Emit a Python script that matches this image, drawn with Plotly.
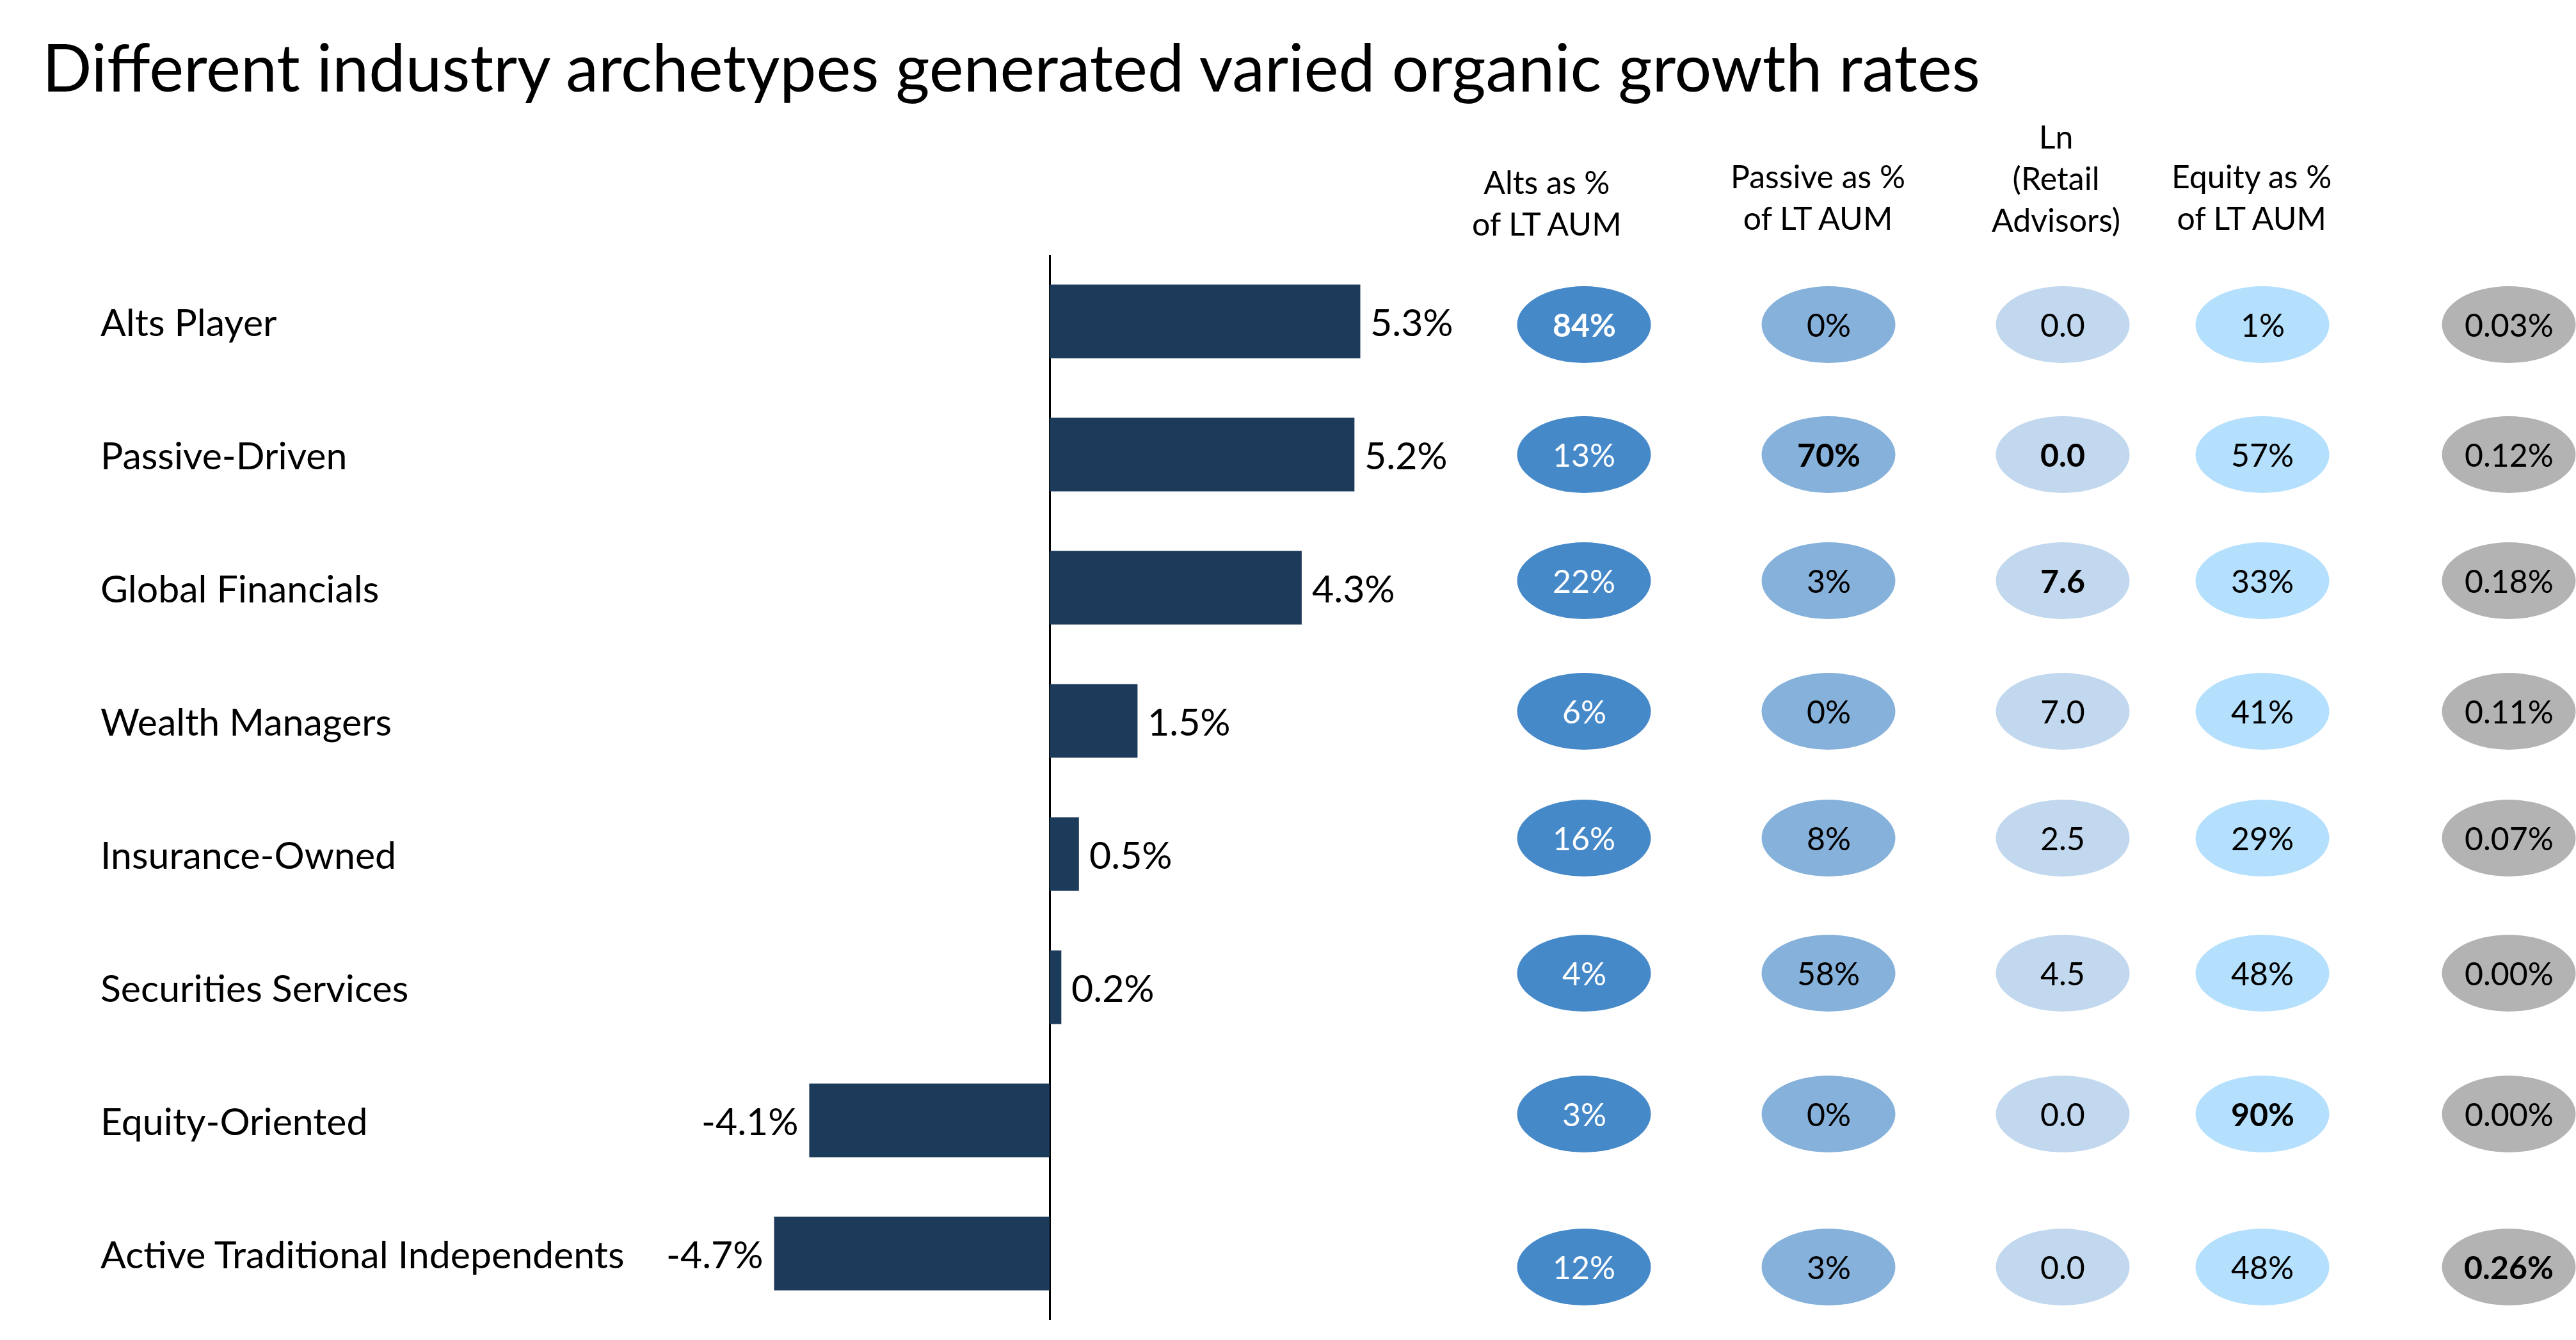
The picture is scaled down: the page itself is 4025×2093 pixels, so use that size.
import plotly.graph_objects as go

# ---------------- data ----------------
categories = [
    "Alts Player",
    "Passive-Driven",
    "Global Financials",
    "Wealth Managers",
    "Insurance-Owned",
    "Securities Services",
    "Equity-Oriented",
    "Active Traditional Independents",
]
organic_growth = [5.3, 5.2, 4.3, 1.5, 0.5, 0.2, -4.1, -4.7]

alts_pct = [84, 13, 22, 6, 16, 4, 3, 12]
passive_pct = [0, 70, 3, 0, 8, 58, 0, 3]
ln_retail_advisors = [0.0, 0.0, 7.6, 7.0, 2.5, 4.5, 0.0, 0.0]
equity_pct = [1, 57, 33, 41, 29, 48, 90, 48]
fee_pct = [0.03, 0.12, 0.18, 0.11, 0.07, 0.00, 0.00, 0.26]

column_headers = [
    "Alts as %<br>of LT AUM",
    "Passive as %<br>of LT AUM",
    "Ln<br>(Retail<br>Advisors)",
    "Equity as %<br>of LT AUM",
    "",
]
# rows shown in bold, per column
bold_rows = [[0], [1], [1, 2], [6], [7]]

title_text = "Different industry archetypes generated varied organic growth rates"

# ---------------- layout / style ----------------
W, H = 4025, 2093
FONT = "Lato"
BAR_COLOR = "#1C3A5A"

def px_x(x):
    return x / W

def px_y(y):
    return 1 - y / H

ZERO_PX = 1640.0
PX_PER_UNIT = 91.6
X_DOM = (900, 2300)
x_range = [(X_DOM[0] - ZERO_PX) / PX_PER_UNIT, (X_DOM[1] - ZERO_PX) / PX_PER_UNIT]

ROW_PX = 208.0
Y_TOP_PX, Y_BOT_PX = 398, 2062

col_centers_px = [2475, 2857, 3223, 3535, 3920]
col_fill = ["#4689C9", "#85B1DB", "#C2D8EE", "#B5E0FD", "#B3B3B3"]
col_text_color = ["#FFFFFF", "#000000", "#000000", "#000000", "#000000"]
ell_rx_px, ell_ry_px = 104.5, 60
ell_row_shift_px = [5, 0, -11, -15, -25, -22, -10, 21]

header_pos_px = [(2417, 317), (2840, 307), (3212, 278), (3518, 307), (3920, 307)]

columns = [
    [f"{v:.0f}%" for v in alts_pct],
    [f"{v:.0f}%" for v in passive_pct],
    [f"{v:.1f}" for v in ln_retail_advisors],
    [f"{v:.0f}%" for v in equity_pct],
    [f"{v:.2f}%" for v in fee_pct],
]

rows = list(range(len(categories)))

fig = go.Figure()
fig.add_trace(
    go.Bar(
        x=organic_growth,
        y=rows,
        orientation="h",
        marker=dict(color=BAR_COLOR, line=dict(width=0)),
        width=0.553,
        hoverinfo="skip",
    )
)

annotations = []
shapes = []

# title
annotations.append(dict(
    text=title_text, xref="paper", yref="paper", x=px_x(64), y=px_y(104),
    xanchor="left", yanchor="middle", showarrow=False,
    font=dict(family=FONT, size=102, color="#000000"),
))

# category labels
for i, c in enumerate(categories):
    annotations.append(dict(
        text=c, xref="paper", yref="y", x=px_x(155), y=i,
        xanchor="left", yanchor="middle", showarrow=False,
        font=dict(family=FONT, size=59, color="#000000"),
    ))

# bar value labels
for i, v in enumerate(organic_growth):
    annotations.append(dict(
        text=f"{v:.1f}%", xref="x", yref="y", x=v, y=i,
        xanchor="left" if v >= 0 else "right", yanchor="middle",
        xshift=14 if v >= 0 else -14, showarrow=False,
        font=dict(family=FONT, size=59, color="#000000"),
    ))

# column headers
for (hx, hy), h in zip(header_pos_px, column_headers):
    if not h:
        continue
    annotations.append(dict(
        text=h, xref="paper", yref="paper", x=px_x(hx), y=px_y(hy),
        xanchor="center", yanchor="middle", align="center", showarrow=False,
        font=dict(family=FONT, size=50, color="#000000"),
    ))

# ellipse cells
for ci, (cx, vals) in enumerate(zip(col_centers_px, columns)):
    for ri, txt in enumerate(vals):
        yc = ri + ell_row_shift_px[ri] / ROW_PX
        ry = ell_ry_px / ROW_PX
        shapes.append(dict(
            type="circle", xref="paper", yref="y",
            x0=px_x(cx - ell_rx_px), x1=px_x(cx + ell_rx_px),
            y0=yc - ry, y1=yc + ry,
            fillcolor=col_fill[ci], line=dict(width=0), layer="below",
        ))
        t = f"<b>{txt}</b>" if ri in bold_rows[ci] else txt
        annotations.append(dict(
            text=t, xref="paper", yref="y", x=px_x(cx), y=yc,
            xanchor="center", yanchor="middle", showarrow=False,
            font=dict(family=FONT, size=50, color=col_text_color[ci]),
        ))

fig.update_layout(
    width=W, height=H,
    margin=dict(l=0, r=0, t=0, b=0),
    paper_bgcolor="white", plot_bgcolor="rgba(0,0,0,0)",
    showlegend=False,
    xaxis=dict(
        domain=[px_x(X_DOM[0]), px_x(X_DOM[1])], range=x_range,
        showgrid=False, showticklabels=False, ticks="",
        zeroline=True, zerolinecolor="#000000", zerolinewidth=3,
        showline=False, fixedrange=True,
    ),
    yaxis=dict(
        domain=[px_y(Y_BOT_PX), px_y(Y_TOP_PX)], range=[7.5, -0.5],
        showgrid=False, showticklabels=False, ticks="", zeroline=False,
        showline=False, fixedrange=True,
    ),
    annotations=annotations,
    shapes=shapes,
)

fig.write_html(
    "out.html",
    config={"displayModeBar": False},
    post_script="document.body.style.margin='0';document.body.style.overflow='hidden';",
)
